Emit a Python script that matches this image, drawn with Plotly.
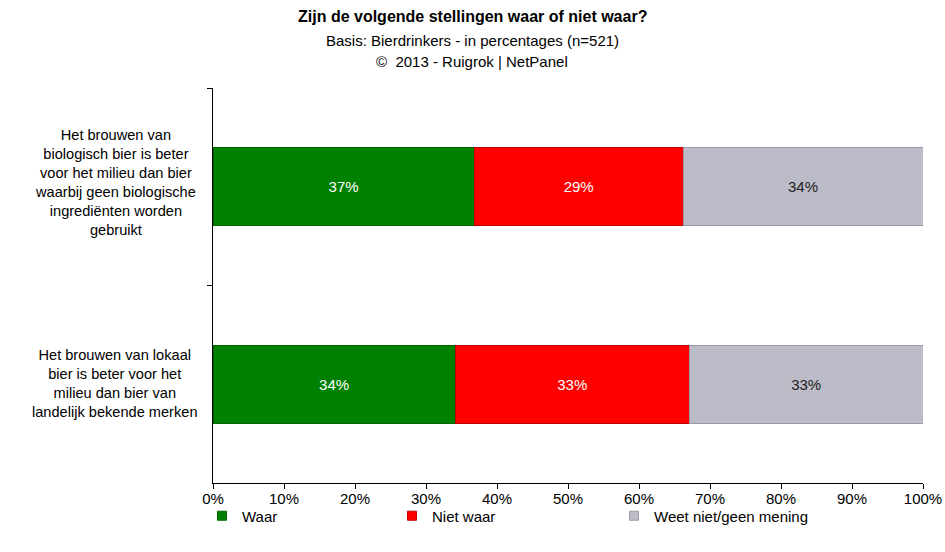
import plotly.graph_objects as go

categories = [
    "Het brouwen van<br>biologisch bier is beter<br>voor het milieu dan bier<br>waarbij geen biologische<br>ingrediënten worden<br>gebruikt",
    "Het brouwen van lokaal<br>bier is beter voor het<br>milieu dan bier van<br>landelijk bekende merken",
]
cat_keys = ["bio", "lokaal"]
series_names = ["Waar", "Niet waar", "Weet niet/geen mening"]
waar = [36.8, 34.1]
niet_waar = [29.4, 33.0]
weet_niet = [33.8, 32.9]
labels_waar = ["37%", "34%"]
labels_niet = ["29%", "33%"]
labels_weet = ["34%", "33%"]
x_ticks = [0, 10, 20, 30, 40, 50, 60, 70, 80, 90, 100]
x_tick_labels = [f"{t}%" for t in x_ticks]
title_lines = [
    "<b>Zijn de volgende stellingen waar of niet waar?</b>",
    "Basis: Bierdrinkers - in percentages (n=521)",
    "©  2013 - Ruigrok | NetPanel",
]

FONT = "Liberation Sans, Arial, sans-serif"
colors = ["#008000", "#FF0000", "#BCBCC8"]
lines = ["#006400", "#C00000", "#9A9AA6"]
text_colors = ["white", "white", "#222222"]

fig = go.Figure()
data = [(waar, labels_waar), (niet_waar, labels_niet), (weet_niet, labels_weet)]
legend_ids = ["legend", "legend2", "legend3"]
for i, (vals, labs) in enumerate(data):
    fig.add_trace(go.Bar(
        y=cat_keys, x=vals, orientation="h", name=series_names[i],
        marker=dict(color=colors[i], line=dict(color=lines[i], width=1)),
        text=labs, textposition="inside", insidetextanchor="middle",
        textfont=dict(color=text_colors[i], size=15, family=FONT),
        width=0.395, showlegend=False, hoverinfo="skip",
    ))
    # legend proxy with a small square symbol
    fig.add_trace(go.Scatter(
        x=[None], y=[None], mode="markers", name=series_names[i],
        marker=dict(symbol="square", size=9, color=colors[i],
                    line=dict(color=lines[i], width=1)),
        legend=legend_ids[i], showlegend=True, hoverinfo="skip",
    ))

label_shifts = [4, 1]
for key, lab, ys in zip(cat_keys, categories, label_shifts):
    fig.add_annotation(
        x=-0.138, xref="paper", y=key, yref="y", text=lab, showarrow=False,
        xanchor="center", yanchor="middle", align="center", yshift=ys,
        font=dict(size=14.6, family=FONT, color="#000000"),
    )

title_px = [17, 40, 61]
title_sizes = [16, 15, 15]
for txt, ypx, sz in zip(title_lines, title_px, title_sizes):
    fig.add_annotation(
        x=(472 - 213) / 710, xref="paper", y=1 + (88 - ypx) / 395, yref="paper",
        text=txt, showarrow=False, xanchor="center", yanchor="middle",
        font=dict(size=sz, family=FONT, color="#000000"),
    )

legend_common = dict(orientation="h", yanchor="middle", xanchor="left",
                     font=dict(size=15, family=FONT, color="#000000"),
                     bgcolor="rgba(0,0,0,0)", itemwidth=30, y=-0.0835)

fig.update_layout(
    width=945, height=552,
    margin=dict(l=213, r=22, t=88, b=69, autoexpand=False),
    paper_bgcolor="white", plot_bgcolor="white",
    barmode="stack",
    font=dict(family=FONT, size=15, color="#000000"),
    xaxis=dict(range=[0, 100], tickvals=x_ticks, ticktext=x_tick_labels,
               showgrid=False, zeroline=False, showline=True, linecolor="#000000",
               linewidth=1, ticks="outside", ticklen=5, tickcolor="#000000",
               ticklabelstandoff=-3,
               tickfont=dict(size=15, family=FONT), fixedrange=True),
    yaxis=dict(categoryorder="array", categoryarray=cat_keys, autorange="reversed",
               showticklabels=False, tickson="boundaries", ticks="outside", ticklen=5,
               tickcolor="#000000", showline=True, linecolor="#000000", linewidth=1,
               showgrid=False, zeroline=False, fixedrange=True),
    legend=dict(x=-0.0155, **legend_common),
    legend2=dict(x=0.2521, **legend_common),
    legend3=dict(x=0.5648, **legend_common),
    showlegend=True,
)

fig.write_html("out.html", config={"displayModeBar": False},
               post_script="document.body.style.margin='0';")
